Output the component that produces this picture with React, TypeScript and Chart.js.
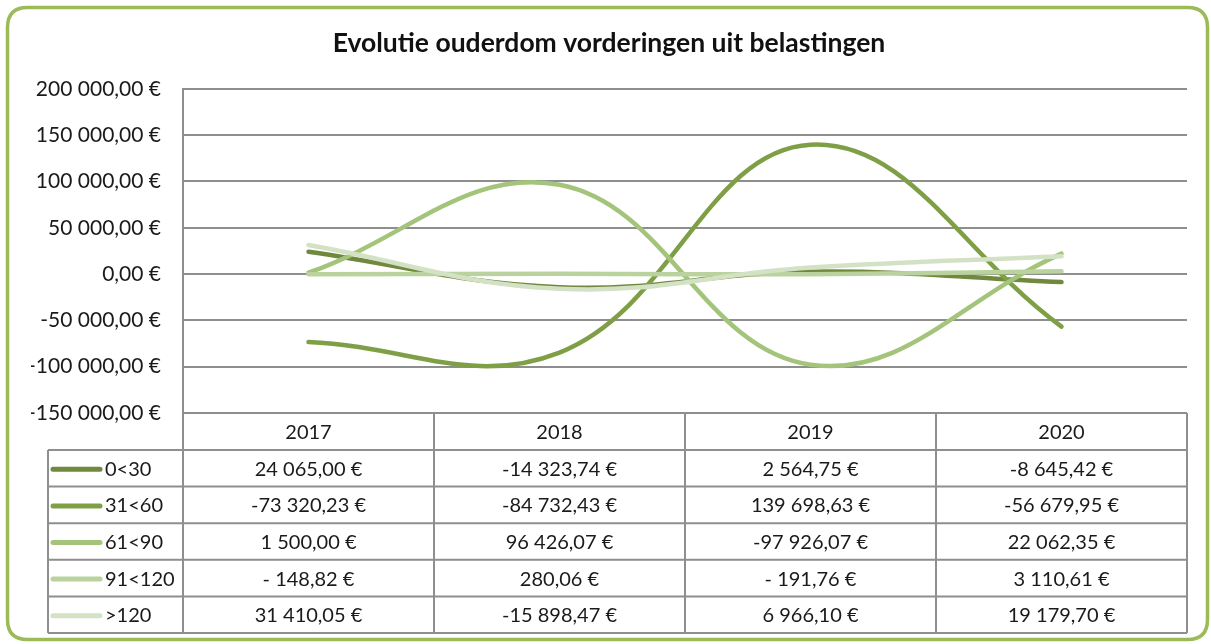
import React, { useEffect, useRef } from "react";
import { Chart, registerables } from "chart.js";

Chart.register(...registerables);

const TITLE = "Evolutie ouderdom vorderingen uit belastingen";
const years = ["2017", "2018", "2019", "2020"];
const seriesNames = ["0<30", "31<60", "61<90", "91<120", ">120"];
const s0to30 = [24065.0, -14323.74, 2564.75, -8645.42];
const s31to60 = [-73320.23, -84732.43, 139698.63, -56679.95];
const s61to90 = [1500.0, 96426.07, -97926.07, 22062.35];
const s91to120 = [-148.82, 280.06, -191.76, 3110.61];
const sOver120 = [31410.05, -15898.47, 6966.1, 19179.7];
const seriesValues = [s0to30, s31to60, s61to90, s91to120, sOver120];
const seriesColors = ["#71893f", "#7f9f46", "#a3c47a", "#bad39e", "#d3e2c5"];

const Y_MIN = -150000;
const Y_MAX = 200000;
const Y_STEP = 50000;

const FONT = "Lato, 'Open Sans', sans-serif";
const GRID = "#8e8e8e";

function fmtEuro(v: number): string {
  const neg = v < 0;
  const abs = Math.abs(v);
  const [intPart, dec] = abs.toFixed(2).split(".");
  const grouped = intPart.replace(/\B(?=(\d{3})+(?!\d))/g, " ");
  let s = grouped + "," + dec + " €";
  if (abs < 1000 && abs !== 0) s = " " + s;
  return ((neg ? "-" : "") + s).trim();
}

const tablePlugin = {
  id: "dataTable",
  afterDraw(chart: any) {
    const ctx = chart.ctx as CanvasRenderingContext2D;
    const area = chart.chartArea;
    const xs = chart.scales.x;
    const n = years.length;
    const centers = years.map((_, i) => xs.getPixelForValue(i));
    const bounds: number[] = [area.left];
    for (let i = 0; i < n - 1; i++) bounds.push((centers[i] + centers[i + 1]) / 2);
    bounds.push(area.right);

    const top = area.bottom;
    const headerH = 37;
    const bottom = 633;
    const rowsTop = top + headerH;
    const rowH = (bottom - rowsTop) / seriesNames.length;
    const legLeft = 48;

    ctx.save();
    ctx.strokeStyle = GRID;
    ctx.lineWidth = 2;
    ctx.beginPath();
    for (let i = 0; i <= n; i++) {
      ctx.moveTo(bounds[i], top);
      ctx.lineTo(bounds[i], bottom);
    }
    ctx.moveTo(legLeft, rowsTop);
    ctx.lineTo(legLeft, bottom);
    for (let r = 0; r <= seriesNames.length; r++) {
      const y = rowsTop + r * rowH;
      ctx.moveTo(legLeft, y);
      ctx.lineTo(area.right, y);
    }
    ctx.stroke();

    ctx.fillStyle = "#1a1a1a";
    ctx.font = `20px ${FONT}`;
    ctx.textBaseline = "middle";
    ctx.textAlign = "center";
    years.forEach((yr, i) => ctx.fillText(yr, centers[i], top + headerH / 2 + 1));

    seriesNames.forEach((name, r) => {
      const cy = rowsTop + r * rowH + rowH / 2 + 1;
      ctx.strokeStyle = seriesColors[r];
      ctx.lineWidth = 5;
      ctx.lineCap = "round";
      ctx.beginPath();
      ctx.moveTo(53, cy);
      ctx.lineTo(100, cy);
      ctx.stroke();
      ctx.textAlign = "left";
      ctx.fillStyle = "#1a1a1a";
      ctx.fillText(name, 105, cy);
      ctx.textAlign = "center";
      seriesValues[r].forEach((v, i) => ctx.fillText(fmtEuro(v), centers[i], cy));
    });

    ctx.strokeStyle = "#9bbb59";
    ctx.lineWidth = 3.5;
    ctx.lineCap = "butt";
    ctx.beginPath();
    const fx = 7.5, fy = 7.5, fw = 1200, fh = 632, rr = 20;
    ctx.moveTo(fx + rr, fy);
    ctx.lineTo(fx + fw - rr, fy);
    ctx.quadraticCurveTo(fx + fw, fy, fx + fw, fy + rr);
    ctx.lineTo(fx + fw, fy + fh - rr);
    ctx.quadraticCurveTo(fx + fw, fy + fh, fx + fw - rr, fy + fh);
    ctx.lineTo(fx + rr, fy + fh);
    ctx.quadraticCurveTo(fx, fy + fh, fx, fy + fh - rr);
    ctx.lineTo(fx, fy + rr);
    ctx.quadraticCurveTo(fx, fy, fx + rr, fy);
    ctx.stroke();
    ctx.restore();
  },
};

export default function App() {
  const canvasRef = useRef<HTMLCanvasElement | null>(null);

  useEffect(() => {
    const canvas = canvasRef.current;
    if (!canvas) return;
    const chart = new Chart(canvas, {
      type: "line",
      data: {
        labels: years,
        datasets: seriesNames.map((name, i) => ({
          label: name,
          data: seriesValues[i],
          borderColor: seriesColors[i],
          backgroundColor: seriesColors[i],
          borderWidth: 4.5,
          pointRadius: 0,
          tension: 0.4,
          fill: false,
          borderCapStyle: "round" as const,
          order: seriesNames.length - 1 - i,
        })),
      },
      options: {
        animation: false,
        responsive: false,
        devicePixelRatio: 1,
        layout: { padding: { left: 31, right: 24, top: 10, bottom: 231 } },
        plugins: {
          legend: { display: false },
          tooltip: { enabled: false },
          title: {
            display: true,
            text: TITLE,
            color: "#111",
            font: { family: FONT, size: 26.5, weight: "bold" },
            padding: { top: 18, bottom: 29 },
          },
        },
        scales: {
          x: {
            type: "category",
            display: false,
            offset: true,
          },
          y: {
            min: Y_MIN,
            max: Y_MAX,
            afterFit: (scale: any) => {
              scale.width = 152;
            },
            ticks: {
              stepSize: Y_STEP,
              padding: 22,
              color: "#1a1a1a",
              font: { family: FONT, size: 21 },
              callback: (v: any) => fmtEuro(Number(v)),
            },
            grid: { color: GRID, lineWidth: 2, drawTicks: false },
            border: { display: true, color: GRID, width: 2 },
          },
        },
      },
      plugins: [tablePlugin],
    });
    return () => chart.destroy();
  }, []);

  return (
    <div style={{ position: "fixed", left: 0, top: 0, width: 1211, height: 644, background: "#fff" }}>
      <canvas ref={canvasRef} width={1211} height={644} />
    </div>
  );
}
